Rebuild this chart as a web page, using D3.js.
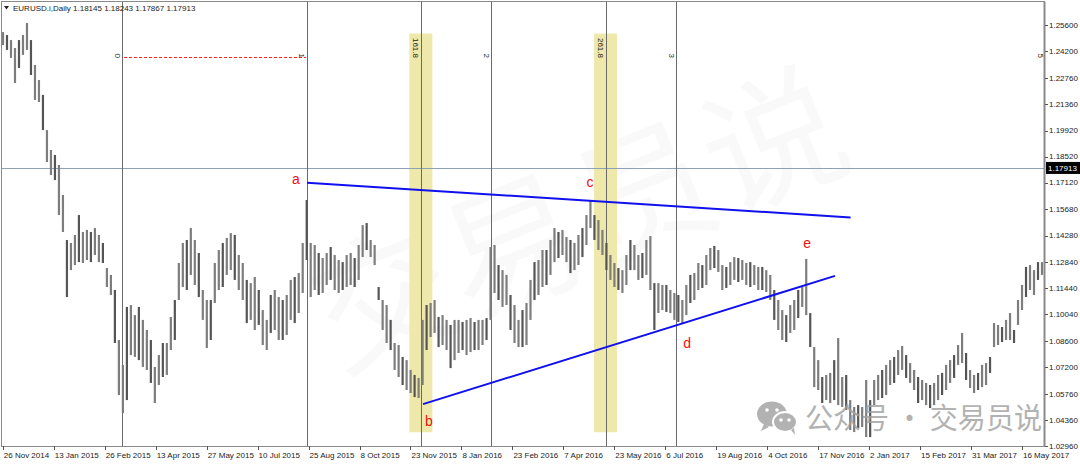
<!DOCTYPE html>
<html><head><meta charset="utf-8">
<script src="https://cdnjs.cloudflare.com/ajax/libs/d3/7.8.5/d3.min.js"></script>
<style>body{margin:0;background:#fff;overflow:hidden}svg{display:block;font-family:"Liberation Sans",Arial,sans-serif}</style>
</head><body><svg id="c" width="1080" height="464"></svg>
<script>
// ---------- data ----------
const symbolTitle = "EURUSD.i,Daily";
const headerQuote = ["1.18145", "1.18243", "1.17867", "1.17913"];
const lastPrice = 1.17913;
const priceTicks = [1.25600,1.24200,1.22760,1.21360,1.19920,1.18520,1.17120,1.15680,1.14280,1.12840,1.11440,1.10040,1.08600,1.07200,1.05760,1.04360,1.02960];
const dateTicks = ["26 Nov 2014","13 Jan 2015","26 Feb 2015","13 Apr 2015","27 May 2015","10 Jul 2015","25 Aug 2015","8 Oct 2015","23 Nov 2015","8 Jan 2016","23 Feb 2016","7 Apr 2016","23 May 2016","6 Jul 2016","19 Aug 2016","4 Oct 2016","17 Nov 2016","2 Jan 2017","15 Feb 2017","31 Mar 2017","16 May 2017"];
// bar highs / lows (grouped bars, oldest first)
const barHigh = [1.2522,1.2506,1.2479,1.2436,1.2479,1.2506,1.2571,1.2479,1.2345,1.2264,1.2184,1.1995,1.1888,1.1861,1.1807,1.1646,1.1404,1.1388,1.1431,1.1538,1.1447,1.1458,1.1447,1.1468,1.1431,1.1388,1.1253,1.1216,1.1135,1.0866,1.0732,1.1044,1.1054,1.1000,1.1044,1.0974,1.0920,1.0866,1.0721,1.0785,1.0850,1.0850,1.0990,1.1081,1.1280,1.1388,1.1404,1.1468,1.1404,1.1334,1.1135,1.1081,1.1081,1.1280,1.1350,1.1388,1.1415,1.1441,1.1431,1.1323,1.1280,1.1189,1.1172,1.1205,1.1135,1.1027,1.0974,1.1108,1.1135,1.1097,1.1081,1.1108,1.1189,1.1205,1.1226,1.1388,1.1619,1.1388,1.1377,1.1334,1.1307,1.1334,1.1366,1.1323,1.1296,1.1285,1.1323,1.1334,1.1307,1.1377,1.1484,1.1495,1.1404,1.1377,1.1151,1.1081,1.1054,1.0974,1.0850,1.0839,1.0775,1.0758,1.0705,1.0678,1.0662,1.0974,1.1054,1.1065,1.1081,1.0990,1.1000,1.0974,1.0947,1.0974,1.0974,1.0963,1.0974,1.0984,1.0963,1.0974,1.0974,1.0984,1.1366,1.1377,1.1269,1.1242,1.1216,1.1108,1.1054,1.0974,1.1027,1.1065,1.1189,1.1285,1.1296,1.1350,1.1350,1.1404,1.1468,1.1447,1.1458,1.1420,1.1404,1.1388,1.1431,1.1468,1.1538,1.1619,1.1538,1.1511,1.1458,1.1388,1.1323,1.1280,1.1253,1.1242,1.1323,1.1404,1.1377,1.1323,1.1334,1.1404,1.1425,1.1172,1.1172,1.1162,1.1162,1.1135,1.1119,1.1108,1.1081,1.1162,1.1216,1.1226,1.1280,1.1269,1.1323,1.1361,1.1372,1.1350,1.1269,1.1259,1.1285,1.1312,1.1307,1.1296,1.1280,1.1285,1.1269,1.1259,1.1259,1.1242,1.1216,1.1135,1.1081,1.1027,1.1000,1.1054,1.1081,1.1135,1.1151,1.1302,1.1011,1.0828,1.0758,1.0667,1.0678,1.0689,1.0758,1.0877,1.0667,1.0678,1.0543,1.0506,1.0516,1.0506,1.0651,1.0543,1.0651,1.0678,1.0705,1.0732,1.0758,1.0775,1.0812,1.0834,1.0785,1.0742,1.0705,1.0667,1.0651,1.0635,1.0624,1.0635,1.0678,1.0689,1.0732,1.0758,1.0785,1.0839,1.0904,1.0796,1.0705,1.0678,1.0689,1.0732,1.0742,1.0775,1.0957,1.0947,1.0936,1.0974,1.1011,1.0920,1.1081,1.1162,1.1259,1.1269,1.1242,1.1285,1.1285];
const barLow = [1.2452,1.2426,1.2383,1.2248,1.2329,1.2399,1.2426,1.2291,1.2157,1.2146,1.1995,1.1823,1.1753,1.1726,1.1538,1.1447,1.1097,1.1242,1.1269,1.1285,1.1280,1.1296,1.1285,1.1323,1.1285,1.1280,1.1151,1.1108,1.0850,1.0570,1.0473,1.0543,1.0785,1.0775,1.0758,1.0721,1.0705,1.0635,1.0527,1.0624,1.0667,1.0678,1.0812,1.0866,1.1081,1.1151,1.1135,1.1216,1.1162,1.1097,1.0974,1.0823,1.0866,1.1065,1.1135,1.1151,1.1216,1.1242,1.1189,1.1135,1.1081,1.0957,1.0974,1.0920,1.0947,1.0839,1.0812,1.0904,1.0920,1.0866,1.0866,1.0893,1.0974,1.0957,1.1011,1.1119,1.1296,1.1097,1.1135,1.1108,1.1119,1.1162,1.1189,1.1135,1.1119,1.1135,1.1151,1.1162,1.1151,1.1189,1.1312,1.1350,1.1312,1.1269,1.1081,1.0920,1.0850,1.0812,1.0705,1.0667,1.0624,1.0597,1.0581,1.0559,1.0554,1.0624,1.0812,1.0882,1.0904,1.0828,1.0839,1.0812,1.0715,1.0758,1.0796,1.0812,1.0785,1.0801,1.0812,1.0812,1.0839,1.0866,1.0974,1.1119,1.1081,1.1044,1.1054,1.0920,1.0850,1.0828,1.0828,1.0839,1.0974,1.1081,1.1108,1.1151,1.1162,1.1216,1.1285,1.1307,1.1323,1.1285,1.1226,1.1242,1.1269,1.1312,1.1377,1.1468,1.1404,1.1350,1.1323,1.1242,1.1189,1.1151,1.1135,1.1119,1.1162,1.1242,1.1242,1.1189,1.1199,1.1216,1.1135,1.0920,1.1011,1.1027,1.1017,1.1011,1.0974,1.0963,1.0957,1.1000,1.1065,1.1081,1.1135,1.1146,1.1162,1.1242,1.1253,1.1232,1.1135,1.1146,1.1162,1.1189,1.1178,1.1189,1.1162,1.1151,1.1162,1.1135,1.1135,1.1124,1.1081,1.0974,1.0920,1.0866,1.0855,1.0904,1.0920,1.0984,1.1044,1.1000,1.0828,1.0613,1.0597,1.0527,1.0543,1.0527,1.0543,1.0516,1.0506,1.0490,1.0382,1.0371,1.0393,1.0398,1.0344,1.0344,1.0516,1.0543,1.0554,1.0570,1.0624,1.0635,1.0678,1.0705,1.0662,1.0635,1.0597,1.0527,1.0543,1.0516,1.0500,1.0516,1.0543,1.0570,1.0597,1.0635,1.0662,1.0732,1.0742,1.0651,1.0608,1.0581,1.0597,1.0613,1.0624,1.0689,1.0828,1.0839,1.0855,1.0866,1.0866,1.0850,1.0947,1.1027,1.1097,1.1135,1.1108,1.1189,1.1216];
// trend lines: [bar index, price]
const upperTrend = [[76.1, 1.1712], [212.1, 1.1525]];
const lowerTrend = [[105.1, 1.0521], [208.2, 1.1211]];
const waveLabels = [["a",73.3,1.1731],["b",106.6,1.0430],["c",146.9,1.1715],["d",171.2,1.0849],["e",201.2,1.1387]];
// Fibonacci time zones
const fibOrigin = 29.78, fibUnit = 46.22;
const fibLines = [[0,"0"],[1,"1"],[2,"2"],[3,"3"],[5,"5"]];
const fibBands = [[1.618,"161.8"],[2.618,"261.8"]];
const fibBaselinePrice = 1.2388;
const bandTop = 1.2514, bandBottom = 1.0370;
const wmText = "公众号 · 交易员说";
const bigWm = "交易员说";

// ---------- scales ----------
const svg = d3.select("#c");
const L = 2, R = 1044, T = 2, B = 446;
const y = d3.scaleLinear().domain([1.0296, 1.256]).range([446, 25]);
const x = d3.scaleLinear().domain([0, barHigh.length - 1]).range([3, 1042]);
const xt = d3.scaleLinear().domain([0, dateTicks.length - 1]).range([2.8, 1022]);
const fibX = k => x(fibOrigin + k * fibUnit);

svg.append("rect").attr("width",1080).attr("height",464).attr("fill","#fff");
svg.append("clipPath").attr("id","plot").append("rect").attr("x",L).attr("y",T).attr("width",R-L).attr("height",B-T);
const g = svg.append("g").attr("clip-path","url(#plot)");

// faint big watermark
g.append("text").attr("x",338).attr("y",372).attr("transform","rotate(-22,338,372)")
  .attr("font-family","'Noto Sans CJK SC'").attr("font-size",140).attr("fill","#000").attr("fill-opacity",0.025)
  .text(bigWm);

// fib bands
g.selectAll("rect.band").data(fibBands).join("rect").attr("class","band")
  .attr("x",d=>fibX(d[0])-11.5).attr("width",23)
  .attr("y",y(bandTop)).attr("height",y(bandBottom)-y(bandTop))
  .attr("fill","#eee8aa");

// current price line
g.append("line").attr("x1",L).attr("x2",R).attr("y1",Math.round(y(lastPrice))+0.5).attr("y2",Math.round(y(lastPrice))+0.5)
  .attr("stroke","#8ea2b6").attr("stroke-width",1);

// fib vertical lines
const allFib = fibLines.concat(fibBands);
g.selectAll("line.fib").data(allFib).join("line").attr("class","fib")
  .attr("x1",d=>Math.round(fibX(d[0]))+0.5).attr("x2",d=>Math.round(fibX(d[0]))+0.5)
  .attr("y1",T).attr("y2",B).attr("stroke","#6a6a6a").attr("stroke-width",1);

// fib baseline (red dotted)
g.append("line").attr("x1",Math.round(fibX(0))+2).attr("x2",Math.round(fibX(1))-1)
  .attr("y1",Math.round(y(fibBaselinePrice))+0.5).attr("y2",Math.round(y(fibBaselinePrice))+0.5)
  .attr("stroke","#ff2020").attr("stroke-width",1).attr("stroke-dasharray","3,2")
  .attr("shape-rendering","crispEdges");

// bars
g.selectAll("line.bar").data(barHigh).join("line").attr("class","bar")
  .attr("x1",(d,i)=>x(i)).attr("x2",(d,i)=>x(i))
  .attr("y1",d=>y(d)).attr("y2",(d,i)=>y(barLow[i]))
  .attr("stroke",(d,i)=> i%3===1 ? "#555" : "#7d7d7d").attr("stroke-width",2.2);

// trend lines
[upperTrend, lowerTrend].forEach(t => {
  g.append("line").attr("x1",x(t[0][0])).attr("y1",y(t[0][1])).attr("x2",x(t[1][0])).attr("y2",y(t[1][1]))
   .attr("stroke","#1010ee").attr("stroke-width",2);
});

// fib labels (rotated)
g.selectAll("text.fibl").data(allFib).join("text").attr("class","fibl")
  .attr("transform",d=>`translate(${fibX(d[0])-5},58) rotate(90)`)
  .attr("text-anchor","end").attr("dominant-baseline","central")
  .attr("font-size",8).attr("fill","#222").text(d=>d[1]);

// wave labels
g.selectAll("text.wave").data(waveLabels).join("text").attr("class","wave")
  .attr("x",d=>x(d[1])).attr("y",d=>y(d[2])).attr("dy","0.35em").attr("text-anchor","middle")
  .attr("font-size",14).attr("fill","#f01010").text(d=>d[0]);

// WeChat watermark
const wm = svg.append("g").attr("opacity",0.8);
wm.append("ellipse").attr("cx",772).attr("cy",414).attr("rx",15).attr("ry",12.5).attr("fill","#a0a0a0");
wm.append("path").attr("d","M764,424 l-3,7 l8,-4 z").attr("fill","#a0a0a0");
wm.append("ellipse").attr("cx",785).attr("cy",422).attr("rx",12).attr("ry",10).attr("fill","#a0a0a0").attr("stroke","#fff").attr("stroke-width",2);
wm.append("path").attr("d","M791,430 l4,5 l-1,-7 z").attr("fill","#a0a0a0");
[[767,410],[777,410],[781,420],[789,420]].forEach(p=>wm.append("circle").attr("cx",p[0]).attr("cy",p[1]).attr("r",1.8).attr("fill","#fff"));
wm.append("text").attr("x",805).attr("y",429).attr("font-family","'Noto Sans CJK SC'").attr("font-size",29)
  .attr("textLength",237).attr("lengthAdjust","spacingAndGlyphs")
  .attr("fill","#a0a0a0").text(wmText);

// frame
svg.append("rect").attr("x",L-0.5).attr("y",T-0.5).attr("width",R-L+1).attr("height",B-T+1)
  .attr("fill","none").attr("stroke","#8a8a8a").attr("stroke-width",1);
svg.append("line").attr("x1",R+0.5).attr("x2",R+0.5).attr("y1",T).attr("y2",B+1).attr("stroke","#8a8a8a").attr("stroke-width",2);

// price axis
const pa = svg.append("g");
pa.selectAll("line").data(priceTicks).join("line")
  .attr("x1",R+1).attr("x2",R+4).attr("y1",d=>Math.round(y(d))+0.5).attr("y2",d=>Math.round(y(d))+0.5).attr("stroke","#555");
pa.selectAll("text").data(priceTicks).join("text")
  .attr("x",R+5).attr("y",d=>y(d)).attr("dy","0.35em").attr("font-size",8).attr("fill","#222")
  .text(d=>d.toFixed(5));
// current price box
svg.append("rect").attr("x",R+2).attr("y",y(lastPrice)-6).attr("width",35).attr("height",12).attr("fill","#000");
svg.append("text").attr("x",R+4).attr("y",y(lastPrice)).attr("dy","0.35em").attr("font-size",8).attr("fill","#fff").text(lastPrice.toFixed(5));

// date axis
const da = svg.append("g");
da.selectAll("line").data(dateTicks).join("line")
  .attr("x1",(d,i)=>Math.round(xt(i))+0.5).attr("x2",(d,i)=>Math.round(xt(i))+0.5).attr("y1",B).attr("y2",B+4).attr("stroke","#555");
da.selectAll("text").data(dateTicks).join("text")
  .attr("x",(d,i)=>xt(i)+1).attr("y",458).attr("font-size",8).attr("fill","#222").text(d=>d);

// header
svg.append("path").attr("d","M4,6 L9,6 L6.5,9.5 Z").attr("fill","#222");
svg.append("text").attr("x",13).attr("y",11).attr("font-size",8).attr("fill","#222")
  .text(symbolTitle + "  " + headerQuote.join(" "));
</script></body></html>
